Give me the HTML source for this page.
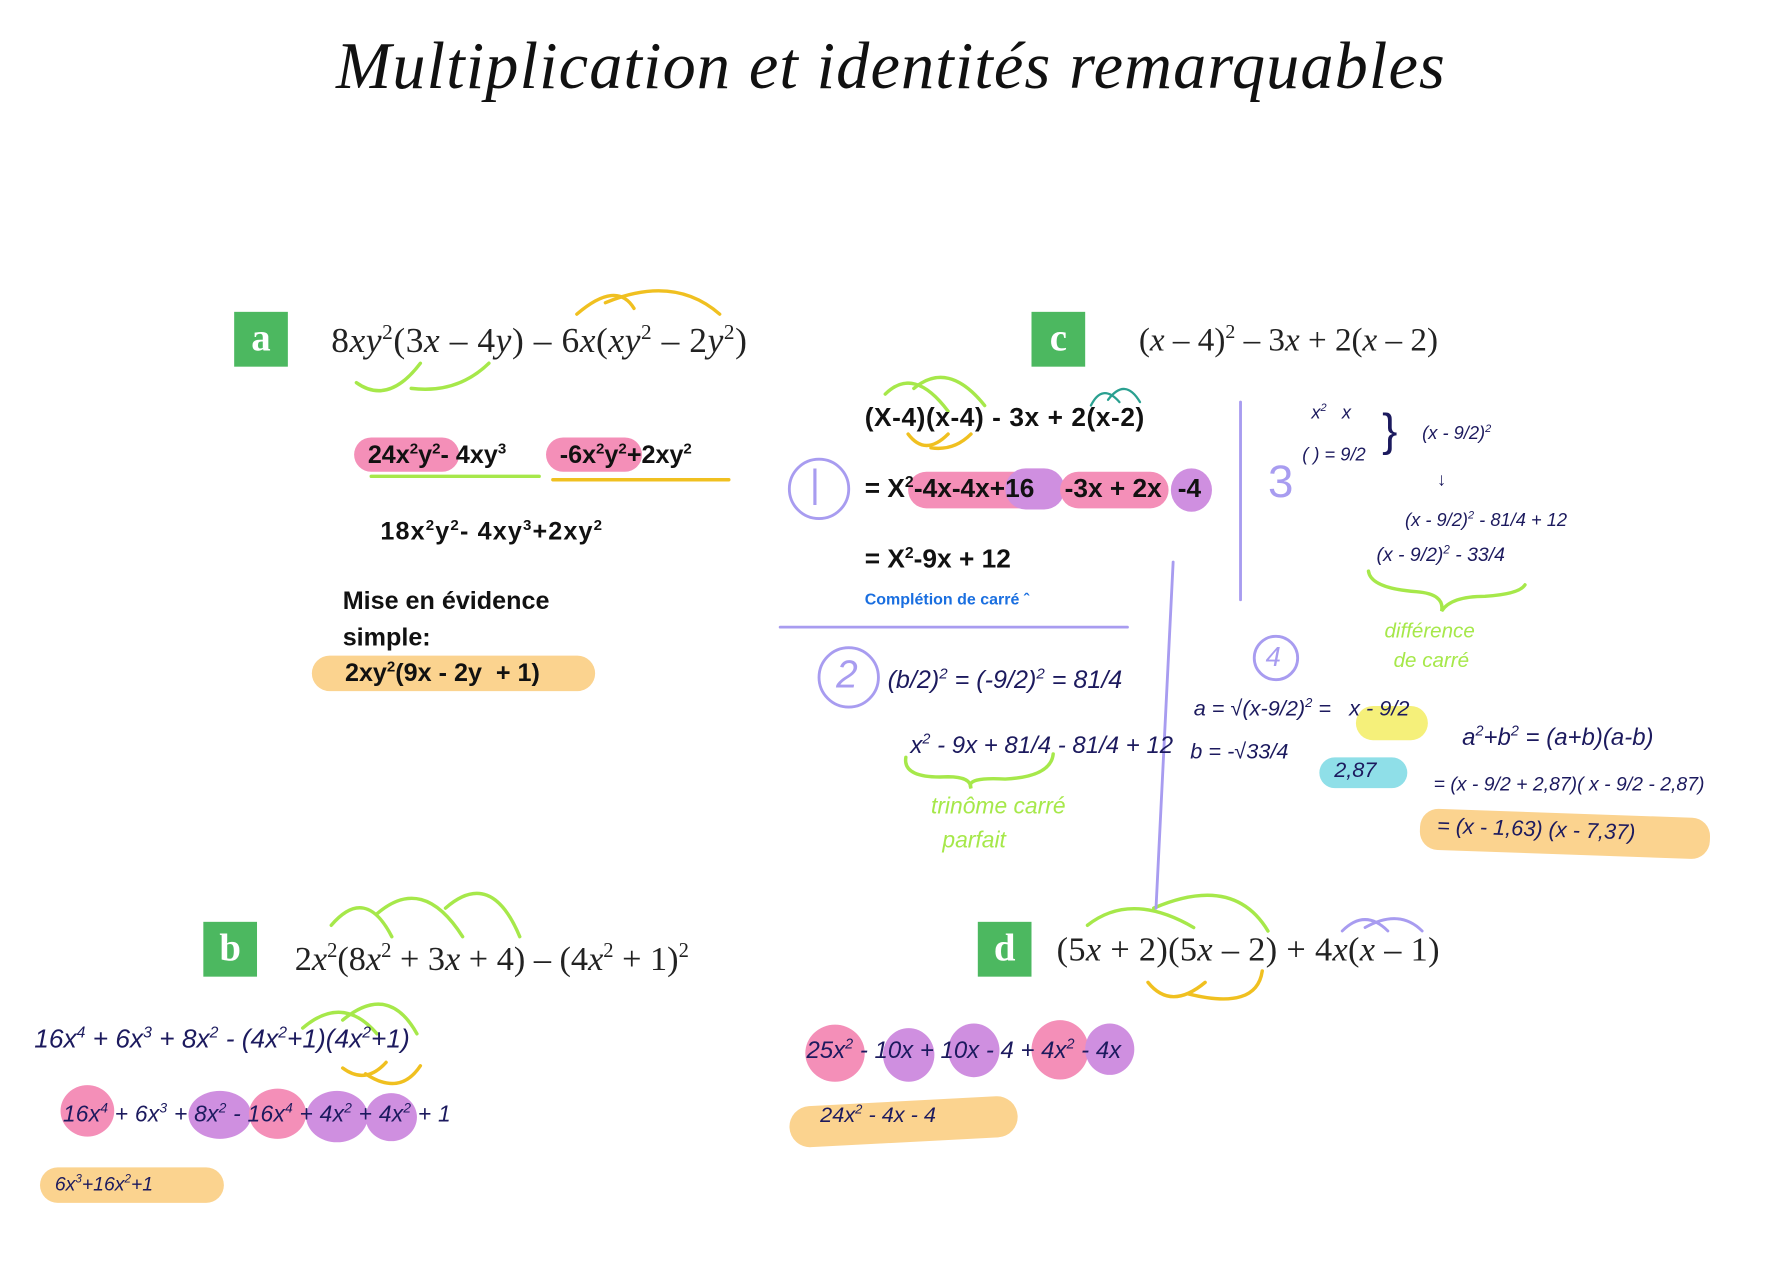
<!DOCTYPE html>
<html><head><meta charset="utf-8"><style>
html,body{margin:0;padding:0;background:#fff;width:1782px;height:1283px;overflow:hidden}
#w{position:absolute;left:0;top:0;width:1560px;height:1123px;transform:scale(1.1423);transform-origin:0 0}
.a{position:absolute;white-space:nowrap}
.box{position:absolute;background:#4cb860;color:#fff;font:bold 34px "Liberation Serif",serif;text-align:center;line-height:48px;width:47px;height:48px}
.eq{position:absolute;font:30px "Liberation Serif",serif;color:#222;white-space:nowrap}
.bh{position:absolute;font:bold 22px "Liberation Sans Narrow","Liberation Sans",sans-serif;color:#111;white-space:nowrap}
.hw{position:absolute;font:italic 19px "Liberation Sans",sans-serif;color:#1c1a5e;white-space:nowrap}
.pk{position:absolute;background:#f48fb8;border-radius:20px}
.pu{position:absolute;background:#cf8fe0;border-radius:50%}
.pkc{position:absolute;background:#f48fb8;border-radius:50%}
.or{position:absolute;background:#fbd38f;border-radius:16px}
.gr{position:absolute;font:italic 20px "Liberation Sans",sans-serif;color:#a6e84a;white-space:nowrap}
sup{font-size:60%}
</style></head><body><div id="w">
<div class="a" style="left:0;width:1560px;top:24px;text-align:center;font:italic 58px 'Liberation Serif',serif;color:#111;letter-spacing:1px">Multiplication et identités remarquables</div>

<div class="box" style="left:205px;top:273px">a</div>
<div class="box" style="left:903px;top:273px">c</div>
<div class="box" style="left:178px;top:807px">b</div>
<div class="box" style="left:856px;top:807px">d</div>

<div class="eq" style="left:290px;top:280px;font-size:31px;letter-spacing:0.5px">8<i>xy</i><sup>2</sup>(3<i>x</i> – 4<i>y</i>) – 6<i>x</i>(<i>xy</i><sup>2</sup> – 2<i>y</i><sup>2</sup>)</div>
<div class="eq" style="left:997px;top:280px;font-size:29px">(<i>x</i> – 4)<sup>2</sup> – 3<i>x</i> + 2(<i>x</i> – 2)</div>
<div class="eq" style="left:258px;top:822px">2<i>x</i><sup>2</sup>(8<i>x</i><sup>2</sup> + 3<i>x</i> + 4) – (4<i>x</i><sup>2</sup> + 1)<sup>2</sup></div>
<div class="eq" style="left:925px;top:815px;letter-spacing:0.3px">(5<i>x</i> + 2)(5<i>x</i> – 2) + 4<i>x</i>(<i>x</i> – 1)</div>

<svg class="a" style="left:0;top:0" width="1560" height="1123" fill="none" stroke-linecap="round">
<g stroke="#a6e84a" stroke-width="3">
<path d="M312 335 Q340 355 368 318"/><path d="M360 340 Q400 345 428 318"/>
<path d="M325 417 H472"/>
<path d="M775 345 Q800 320 830 360"/><path d="M800 340 Q830 315 862 355"/>
<path d="M290 810 Q320 775 343 820"/><path d="M330 800 Q370 765 405 820"/><path d="M390 795 Q430 760 455 820"/>
<path d="M265 900 Q300 870 330 905"/><path d="M300 893 Q340 860 365 905"/>
<path d="M952 810 Q990 780 1045 812"/><path d="M1010 795 Q1080 765 1110 815"/>
<path d="M793 663 Q790 682 830 680 Q850 680 850 690 Q845 680 880 682 Q920 680 922 660"/>
<path d="M1198 500 Q1200 515 1240 518 Q1265 520 1262 535 Q1270 522 1300 522 Q1330 520 1335 512"/>
</g>
<g stroke="#f0c020" stroke-width="3">
<path d="M505 275 Q540 245 555 270"/><path d="M530 265 Q590 240 630 275"/>
<path d="M484 420 H638"/>
<path d="M795 380 Q810 400 830 380"/><path d="M815 392 Q835 395 850 380"/>
<path d="M300 935 Q320 950 338 930"/><path d="M320 940 Q350 960 368 933"/>
<path d="M1005 860 Q1025 885 1055 860"/><path d="M1040 870 Q1100 885 1105 850"/>
</g>
<g stroke="#2aa090" stroke-width="2"><path d="M955 355 Q965 335 980 352"/><path d="M970 350 Q985 330 998 352"/></g>
<g stroke="#a89cf0" stroke-width="2.5">
<circle cx="717" cy="428" r="26"/><circle cx="743" cy="593" r="26"/><circle cx="1117" cy="576" r="19"/>
<path d="M683 549 H987"/><path d="M1086 352 V525"/><path d="M1027 492 L1012 795"/>
<path d="M1175 815 Q1195 795 1215 815"/><path d="M1195 812 Q1225 795 1245 815"/>
</g>
</svg>

<div class="pk" style="left:310px;top:383px;width:92px;height:30px"></div>
<div class="pk" style="left:478px;top:383px;width:84px;height:30px"></div>
<div class="bh" style="left:322px;top:385px">24x<sup>2</sup>y<sup>2</sup>- 4xy<sup>3</sup></div>
<div class="bh" style="left:490px;top:385px">-6x<sup>2</sup>y<sup>2</sup>+2xy<sup>2</sup></div>
<div class="bh" style="left:333px;top:452px;letter-spacing:1px">18x<sup>2</sup>y<sup>2</sup>- 4xy<sup>3</sup>+2xy<sup>2</sup></div>
<div class="bh" style="left:300px;top:513px">Mise en évidence</div>
<div class="bh" style="left:300px;top:545px">simple:</div>
<div class="or" style="left:273px;top:574px;width:248px;height:31px"></div>
<div class="bh" style="left:302px;top:576px">2xy<sup>2</sup>(9x - 2y&nbsp; + 1)</div>

<div class="bh" style="left:757px;top:352px;font-size:23px;letter-spacing:0.5px">(X-4)(x-4) - 3x + 2(x-2)</div>
<div class="a" style="left:709px;top:405px;font:34px 'Liberation Sans';color:#a89cf0">|</div>
<div class="pk" style="left:795px;top:413px;width:135px;height:32px"></div>
<div class="pu" style="left:880px;top:410px;width:52px;height:36px;border-radius:18px"></div>
<div class="pk" style="left:928px;top:413px;width:95px;height:32px"></div>
<div class="pu" style="left:1025px;top:410px;width:36px;height:38px"></div>
<div class="bh" style="left:757px;top:414px;font-size:23px">= X<sup>2</sup></div>
<div class="bh" style="left:800px;top:414px;font-size:23px">-4x-4x+16</div>
<div class="bh" style="left:932px;top:414px;font-size:23px">-3x + 2x</div>
<div class="bh" style="left:1031px;top:414px;font-size:23px">-4</div>
<div class="bh" style="left:757px;top:476px;font-size:23px">= X<sup>2</sup>-9x + 12</div>
<div class="a" style="left:757px;top:516px;font:bold 14px 'Liberation Sans Narrow','Liberation Sans',sans-serif;color:#1a6fe0">Complétion de carré ˆ</div>

<div class="a" style="left:732px;top:572px;font:italic 34px 'Liberation Sans';color:#a89cf0">2</div>
<div class="hw" style="left:777px;top:582px;font-size:22px">(b/2)<sup>2</sup> = (-9/2)<sup>2</sup> = 81/4</div>
<div class="hw" style="left:797px;top:640px;font-size:21px">x<sup>2</sup> - 9x + 81/4 - 81/4 + 12</div>
<div class="gr" style="left:815px;top:695px">trinôme carré</div>
<div class="gr" style="left:825px;top:725px">parfait</div>

<div class="a" style="left:1110px;top:400px;font:40px 'Liberation Sans';color:#a89cf0">3</div>
<div class="hw" style="left:1148px;top:352px;font-size:16px">x<sup>2</sup>&nbsp;&nbsp; x</div>
<div class="hw" style="left:1140px;top:390px;font-size:16px">( ) = 9/2</div>
<div class="hw" style="left:1210px;top:355px;font-size:40px;font-style:normal">}</div>
<div class="hw" style="left:1245px;top:370px;font-size:16px">(x - 9/2)<sup>2</sup></div>
<div class="hw" style="left:1258px;top:412px;font-size:16px">↓</div>
<div class="hw" style="left:1230px;top:446px;font-size:16px">(x - 9/2)<sup>2</sup> - 81/4 + 12</div>
<div class="hw" style="left:1205px;top:476px;font-size:17px">(x - 9/2)<sup>2</sup> - 33/4</div>
<div class="gr" style="left:1212px;top:542px;font-size:18px">différence</div>
<div class="gr" style="left:1220px;top:568px;font-size:18px">de carré</div>

<div class="a" style="left:1108px;top:562px;font:italic 24px 'Liberation Sans';color:#a89cf0">4</div>
<div class="or" style="left:1187px;top:618px;width:63px;height:30px;background:#f5f07a"></div>
<div class="hw" style="left:1045px;top:610px">a = √(x-9/2)<sup>2</sup> = &nbsp;&nbsp;x - 9/2</div>
<div class="hw" style="left:1042px;top:648px">b = -√33/4</div>
<div class="or" style="left:1155px;top:663px;width:77px;height:27px;background:#8fdfe8"></div>
<div class="hw" style="left:1168px;top:664px">2,87</div>
<div class="hw" style="left:1280px;top:633px;font-size:21px">a<sup>2</sup>+b<sup>2</sup> = (a+b)(a-b)</div>
<div class="hw" style="left:1255px;top:677px;font-size:17px">= (x - 9/2 + 2,87)( x - 9/2 - 2,87)</div>
<div class="or" style="left:1243px;top:712px;width:254px;height:36px;transform:rotate(2deg)"></div>
<div class="hw" style="left:1258px;top:716px;font-size:19px;transform:rotate(2deg)">= (x - 1,63) (x - 7,37)</div>

<div class="hw" style="left:30px;top:896px;font-size:23px">16x<sup>4</sup> + 6x<sup>3</sup> + 8x<sup>2</sup> - (4x<sup>2</sup>+1)(4x<sup>2</sup>+1)</div>
<div class="pkc" style="left:53px;top:950px;width:47px;height:45px"></div>
<div class="pu" style="left:165px;top:955px;width:55px;height:42px"></div>
<div class="pkc" style="left:218px;top:953px;width:50px;height:44px"></div>
<div class="pu" style="left:268px;top:955px;width:54px;height:45px"></div>
<div class="pu" style="left:320px;top:957px;width:45px;height:42px"></div>
<div class="hw" style="left:55px;top:963px;font-size:20px;letter-spacing:0.2px">16x<sup>4</sup> + 6x<sup>3</sup> + 8x<sup>2</sup> - 16x<sup>4</sup> + 4x<sup>2</sup> + 4x<sup>2</sup> + 1</div>
<div class="or" style="left:35px;top:1022px;width:161px;height:31px"></div>
<div class="hw" style="left:48px;top:1027px;font-size:17px">6x<sup>3</sup>+16x<sup>2</sup>+1</div>

<div class="pkc" style="left:705px;top:897px;width:52px;height:50px"></div>
<div class="pu" style="left:773px;top:900px;width:45px;height:47px"></div>
<div class="pu" style="left:830px;top:896px;width:45px;height:47px"></div>
<div class="pkc" style="left:903px;top:893px;width:50px;height:52px"></div>
<div class="pu" style="left:950px;top:896px;width:43px;height:45px"></div>
<div class="hw" style="left:706px;top:907px;font-size:21px">25x<sup>2</sup> - 10x + 10x - 4 + 4x<sup>2</sup> - 4x</div>
<div class="or" style="left:691px;top:964px;width:200px;height:36px;transform:rotate(-3deg);border-radius:18px"></div>
<div class="hw" style="left:718px;top:966px">24x<sup>2</sup> - 4x - 4</div>
</div></body></html>
